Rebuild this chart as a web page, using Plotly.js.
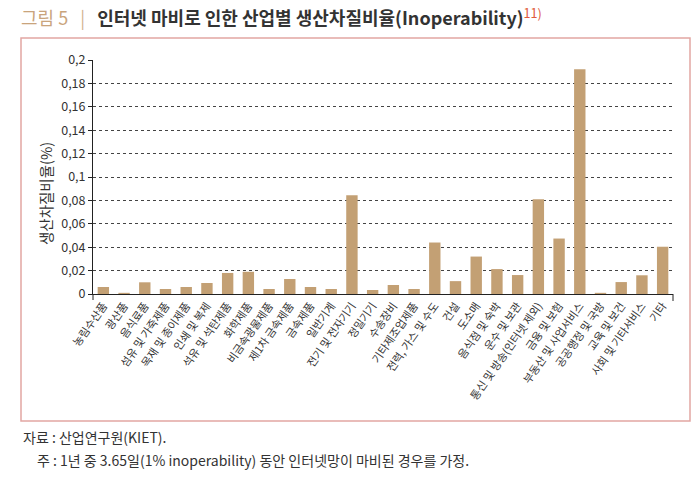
<!DOCTYPE html>
<html><head><meta charset="utf-8">
<script src="https://cdn.plot.ly/plotly-3.0.1.min.js"></script>
<style>html,body{margin:0;padding:0;background:#fff;} #chart{width:700px;height:479px;}</style>
</head><body><div id="chart"></div>
<script>
const categories = ['농림수산품','광산품','음식료품','섬유 및 가죽제품','목재 및 종이제품','인쇄 및 복제','석유 및 석탄제품','화학제품','비금속광물제품','제1차 금속제품','금속제품','일반기계','전기 및 전자기기','정밀기기','수송장비','기타제조업제품','전력, 가스 및 수도','건설','도소매','음식점 및 숙박','운수 및 보관','통신 및 방송(인터넷 제외)','금융 및 보험','부동산 및 사업서비스','공공행정 및 국방','교육 및 보건','사회 및 기타서비스','기타'];
const values = [0.006,0.001,0.010,0.0043,0.006,0.0094,0.018,0.019,0.0043,0.0128,0.006,0.0043,0.0843,0.0034,0.0077,0.0043,0.044,0.011,0.032,0.0213,0.0162,0.081,0.0474,0.192,0.001,0.0102,0.016,0.0404];
const yTickVals = [0,0.02,0.04,0.06,0.08,0.1,0.12,0.14,0.16,0.18,0.2];
const yTickText = ['0','0,02','0,04','0,06','0,08','0,1','0,12','0,14','0,16','0,18','0,2'];
const figLabel = '그림 5';
const titleMain = '인터넷 마비로 인한 산업별 생산차질비율(Inoperability)';
const titleSup = '11)';
const yTitle = '생산차질비율(%)';
const note1 = '자료 : 산업연구원(KIET).';
const note2 = '주 : 1년 중 3.65일(1% inoperability) 동안 인터넷망이 마비된 경우를 가정.';

const FONT = '"Noto Sans CJK KR", "Noto Sans", sans-serif';
const W = 580, H = 234;
const px = v => (v - 93) / W;
const py = v => (294 - v) / H;

const titleText = '<span style="color:#c9a47c">' + figLabel + '</span>   <span style="color:#d2b48f">|</span>   <b>' + titleMain + '</b><sup><span style="color:#e05a3a">' + titleSup + '</span></sup>';

Plotly.newPlot('chart', [{
  type: 'bar',
  x: categories,
  y: values,
  marker: {color: '#c3a074'},
  hoverinfo: 'x+y'
}], {
  width: 700, height: 479,
  margin: {l: 93, r: 27, t: 60, b: 185},
  paper_bgcolor: '#fff', plot_bgcolor: '#fff',
  bargap: 0.45,
  showlegend: false,
  font: {family: FONT, color: '#333'},
  title: {text: titleText, x: 21/700, xref: 'container', xanchor: 'left', y: 1 - 19/479, yref: 'container', yanchor: 'middle', font: {family: FONT, size: 18, color: '#333'}},
  xaxis: {
    range: [-0.5, 27.5], showline: true, linecolor: '#222', linewidth: 1,
    showgrid: false, ticks: '', tickangle: -55, tickfont: {size: 11, color: '#333'}, fixedrange: true
  },
  yaxis: {
    range: [0, 0.2], tickvals: yTickVals, ticktext: yTickText,
    showline: true, linecolor: '#222', linewidth: 1, ticks: 'outside', ticklen: 4, tickcolor: '#222',
    showgrid: true, gridcolor: '#444', griddash: 'dot', gridwidth: 1, zeroline: false,
    tickfont: {size: 12.5, color: '#333'}, fixedrange: true
  },
  shapes: [
    {type: 'rect', xref: 'paper', yref: 'paper', x0: px(21), x1: px(690), y0: py(421), y1: py(38), line: {color: '#e2a6a3', width: 1.5}, layer: 'below'},
    {type: 'line', xref: 'paper', yref: 'paper', x0: 1, x1: 1, y0: 0, y1: -7/H, line: {color: '#222', width: 1}},
    {type: 'line', xref: 'paper', yref: 'paper', x0: 0, x1: 0, y0: 0, y1: -6/H, line: {color: '#222', width: 1}}
  ],
  annotations: [
    {text: yTitle, xref: 'paper', yref: 'paper', x: px(45), y: py(194), textangle: -90, showarrow: false, xanchor: 'center', yanchor: 'middle', font: {size: 14.5, color: '#333'}},
    {text: note1, xref: 'paper', yref: 'paper', x: px(21), y: py(437), showarrow: false, xanchor: 'left', yanchor: 'middle', font: {size: 14, color: '#333'}},
    {text: note2, xref: 'paper', yref: 'paper', x: px(35), y: py(460), showarrow: false, xanchor: 'left', yanchor: 'middle', font: {size: 14, color: '#333'}}
  ]
}, {displayModeBar: false, staticPlot: true});
</script>
</body></html>
